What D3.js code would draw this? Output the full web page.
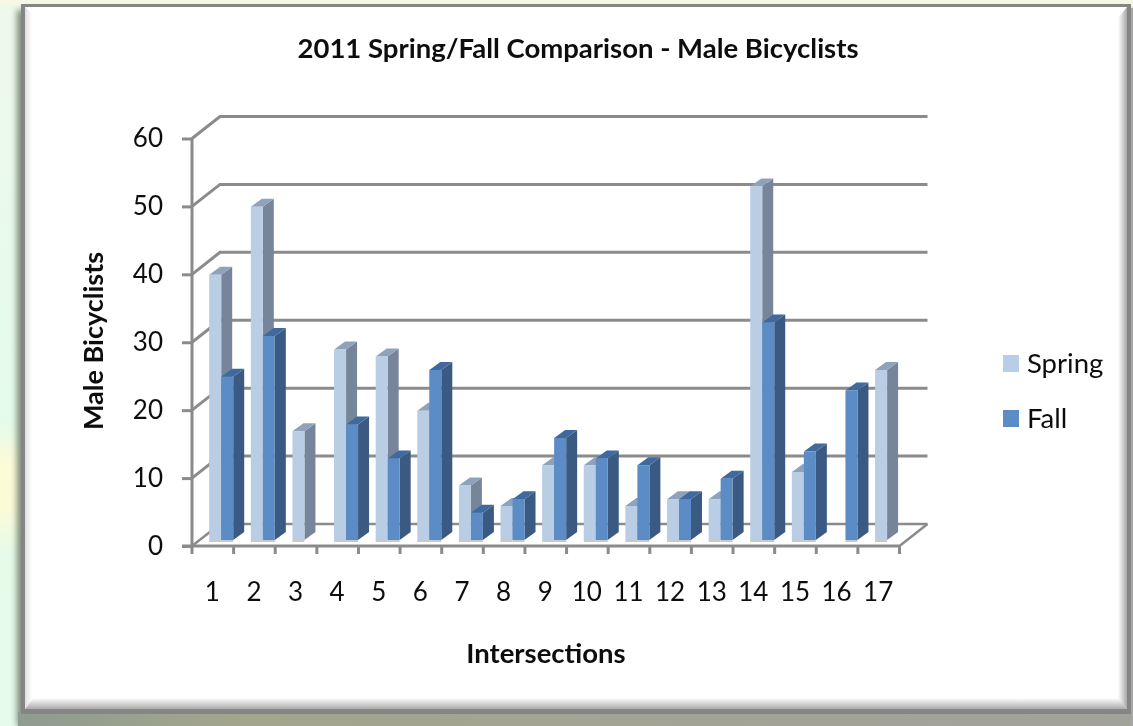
<!DOCTYPE html>
<html><head><meta charset="utf-8">
<script src="https://cdn.jsdelivr.net/npm/d3@7/dist/d3.min.js"></script>
<style>html,body{margin:0;padding:0;background:#fff;overflow:hidden}svg{display:block}text{font-family:Lato,"Open Sans",sans-serif;fill:#111}</style>
</head><body><svg id="c" width="1133" height="726"></svg>
<script>
const categories = ["1","2","3","4","5","6","7","8","9","10","11","12","13","14","15","16","17"];
const spring = [39,49,16,28,27,19,8,5,11,11,5,6,6,52,10,null,25];
const fall   = [24,30,null,17,12,25,4,6,15,12,11,6,9,32,13,22,null];
const yTicks = [0,10,20,30,40,50,60];
const seriesNames = ["Spring","Fall"];

const svg = d3.select("#c");
const defs = svg.append("defs");
function grad(id,x1,y1,x2,y2,stops){
  const g=defs.append("linearGradient").attr("id",id).attr("x1",x1).attr("y1",y1).attr("x2",x2).attr("y2",y2);
  stops.forEach(s=>g.append("stop").attr("offset",s[0]).attr("stop-color",s[1]));
}
grad("bgL",0,0,0,1,[[0,"#eef9ea"],[.58,"#e4fbeb"],[.64,"#fdfbd8"],[.7,"#fbfbd8"],[.76,"#e6fbe8"],[1,"#e6fbec"]]);
grad("bR",0,0,1,0,[[0,"#ffffff"],[1,"#a8a8a8"]]);
grad("bL",1,0,0,0,[[0,"#ffffff"],[1,"#e0e0e0"]]);
grad("bB",0,0,0,1,[[0,"#ffffff"],[1,"#ababab"]]);
grad("sh",0,0,1,0,[[0,"#8f9c90"],[.2,"#a3a58c"],[.5,"#a3a493"],[1,"#a2a29c"]]);
const f=defs.append("filter").attr("id","soft").attr("x","-5%").attr("y","-5%").attr("width","110%").attr("height","110%");
f.append("feGaussianBlur").attr("stdDeviation",0.6);
const fs=defs.append("filter").attr("id","shadow").attr("x","-5%").attr("y","-5%").attr("width","110%").attr("height","110%");
fs.append("feGaussianBlur").attr("stdDeviation",3);

// page backdrop and card
svg.append("rect").attr("width",1133).attr("height",726).attr("fill","url(#bgL)");
svg.append("rect").attr("x",0).attr("y",0).attr("width",1133).attr("height",5).attr("fill","#f6f8e6");
svg.append("rect").attr("x",17).attr("y",10).attr("width",1116).attr("height",716).attr("fill","#80887c").attr("filter","url(#shadow)");
svg.append("rect").attr("x",18).attr("y",712).attr("width",1115).attr("height",14).attr("fill","url(#sh)");
svg.append("rect").attr("x",1131).attr("y",8).attr("width",2).attr("height",718).attr("fill","#a6a6a6");
svg.append("rect").attr("x",21).attr("y",4).attr("width",1110).attr("height",710).attr("fill","#858585");
svg.append("rect").attr("x",25).attr("y",7).attr("width",1102).attr("height",702).attr("fill","#fff");
svg.append("polygon").attr("points","25,7 32,14 32,699 25,709").attr("fill","url(#bL)");
svg.append("polygon").attr("points","1127,7 1118,18 1118,699 1127,709").attr("fill","url(#bR)");
svg.append("polygon").attr("points","25,709 33,698 1118,698 1127,709").attr("fill","url(#bB)");

const root = svg.append("g").attr("filter","url(#soft)");

// scales
const yFront = d3.scaleLinear().domain([0,60]).range([546,138.5]);
const x = d3.scaleBand().domain(categories).range([192,899.5]);
const seriesX = d3.scaleBand().domain(seriesNames).range([17.2,41.2]);
const yBar = d3.scaleLinear().domain([0,60]).range([540,132]);
const wallDx = 28, wallDy = -22, depthDx = 11, depthDy = -8;
const axisCol = "#8b8b8b";

// back wall gridlines and floor
const grid = root.append("g").attr("fill","none").attr("stroke",axisCol).attr("stroke-width",3);
yTicks.forEach(t=>{
  const y0=yFront(t);
  grid.append("path").attr("d",`M${x.range()[0]},${y0}L${x.range()[0]+wallDx},${y0+wallDy}H${x.range()[1]+wallDx}`)
    .attr("stroke-width",t===0?2.5:3);
});
grid.append("path").attr("d",`M${x.range()[1]},${yFront(0)}L${x.range()[1]+wallDx},${yFront(0)+wallDy}`).attr("stroke-width",2.5);

// bars
const colors = {
  Spring:{front:"#b9cde5",top:"#8fa2bc",side:"#768599"},
  Fall:{front:"#5b8cc5",top:"#3f6a9d",side:"#3a5a83"}
};
const bars = [];
categories.forEach((c,i)=>{
  if(spring[i]!=null) bars.push({c,s:"Spring",v:spring[i]});
  if(fall[i]!=null) bars.push({c,s:"Fall",v:fall[i]});
});
const bg = root.append("g").selectAll("g").data(bars).join("g");
const bw = seriesX.bandwidth();
const bx = d=>x(d.c)+seriesX(d.s);
bg.append("rect").attr("x",d=>bx(d)).attr("y",540).attr("width",bw).attr("height",2).attr("fill","#c9c9c9");
bg.append("polygon").attr("fill",d=>colors[d.s].side).attr("points",d=>{
  const l=bx(d)+bw,t=yBar(d.v),b=yBar(0);
  return [[l,t],[l+depthDx,t+depthDy],[l+depthDx,b+depthDy],[l,b]].join(" ");});
bg.append("polygon").attr("fill",d=>colors[d.s].top).attr("points",d=>{
  const l=bx(d),t=yBar(d.v);
  return [[l,t],[l+depthDx,t+depthDy],[l+bw+depthDx,t+depthDy],[l+bw,t]].join(" ");});
bg.append("rect").attr("fill",d=>colors[d.s].front).attr("x",bx).attr("y",d=>yBar(d.v)).attr("width",bw).attr("height",d=>yBar(0)-yBar(d.v));

// axes
const yAxis = root.append("g").attr("transform",`translate(${x.range()[0]},0)`)
  .call(d3.axisLeft(yFront).tickValues(yTicks).tickSize(10).tickPadding(19));
const xAxis = root.append("g").attr("transform",`translate(0,${yFront(0)})`)
  .call(d3.axisBottom(x).tickSize(0).tickPadding(37));
[yAxis,xAxis].forEach(a=>{a.select(".domain").attr("stroke",axisCol).attr("stroke-width",3);
  a.selectAll(".tick line").attr("stroke",axisCol).attr("stroke-width",3);
  a.selectAll("text").attr("font-family","Lato").attr("font-size",26).attr("fill","#111");});
yAxis.select(".domain").attr("d",`M0,${yFront(60)}V${yFront(0)+8}`);
xAxis.select(".domain").attr("d",`M${x.range()[0]-10},0H${x.range()[1]}`);
xAxis.selectAll(".tick").attr("transform",d=>`translate(${x(d)+x.bandwidth()/2-0.5},0)`);
const xt = root.append("g").attr("stroke",axisCol).attr("stroke-width",3);
categories.forEach(c=>{
  xt.append("line").attr("x1",x(c)+x.bandwidth()).attr("x2",x(c)+x.bandwidth()).attr("y1",yFront(0)).attr("y2",yFront(0)+8);
});

// titles
root.append("text").attr("x",578).attr("y",58).attr("text-anchor","middle").attr("font-size",27.5).attr("font-weight",700).text("2011 Spring/Fall Comparison - Male Bicyclists");
root.append("text").attr("x",546).attr("y",663).attr("text-anchor","middle").attr("font-size",27.5).attr("font-weight",700).text("Intersections");
root.append("text").attr("transform","translate(103,341) rotate(-90)").attr("text-anchor","middle").attr("font-size",27).attr("font-weight",700).text("Male Bicyclists");

// legend
const lg = root.append("g").selectAll("g").data(seriesNames).join("g").attr("transform",(d,i)=>`translate(1003,${355+i*55})`);
lg.append("rect").attr("width",16).attr("height",17).attr("fill",d=>colors[d].front);
lg.append("text").attr("x",24).attr("y",18).attr("font-size",27.5).text(d=>d);
</script></body></html>
